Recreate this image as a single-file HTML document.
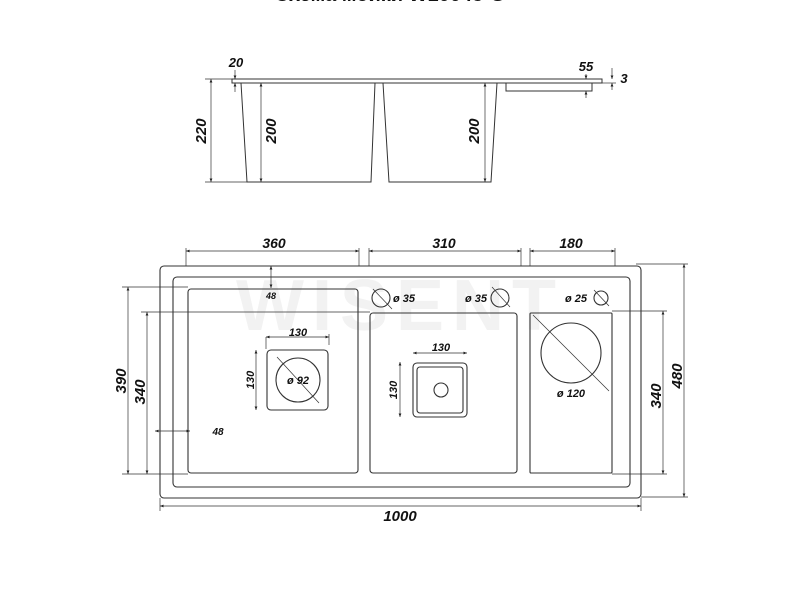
<!DOCTYPE html>
<html><head><meta charset="utf-8"><style>
html,body{margin:0;padding:0;background:#fff;width:800px;height:600px;overflow:hidden}
svg{display:block}
text{font-family:"Liberation Sans",sans-serif;font-weight:bold;font-style:italic;fill:#111}
</style></head><body>
<svg width="800" height="600" viewBox="0 0 800 600" xmlns="http://www.w3.org/2000/svg">
<defs>
<marker id="a" viewBox="0 0 10 10" refX="10" refY="5" markerWidth="5" markerHeight="5" orient="auto-start-reverse"><path d="M0,1 L10,5 L0,9z" fill="#222"/></marker>
</defs>
<text x="390" y="1" font-size="20" text-anchor="middle" style="font-style:normal">Схема мойки W10048-G</text>
<text x="400" y="330" font-size="72" text-anchor="middle" style="fill:#f2f2f2;font-style:normal" letter-spacing="8">WISENT</text>
<g fill="none" stroke="#333" stroke-width="1">
<path d="M232,79 H602 V83 H232 Z"/>
<path d="M241,83 L247,182 H371 L375,83"/>
<path d="M383,83 L389,182 H491 L497,83"/>
<path d="M506,83 V91 H592 V83"/>
</g>
<g stroke="#333" stroke-width="0.7" fill="none">
<line x1="211" y1="79" x2="211" y2="182" marker-start="url(#a)" marker-end="url(#a)"/>
<line x1="205" y1="79" x2="232" y2="79"/><line x1="205" y1="182" x2="247" y2="182"/>
<line x1="261" y1="83" x2="261" y2="182" marker-start="url(#a)" marker-end="url(#a)"/>
<line x1="485" y1="83" x2="485" y2="182" marker-start="url(#a)" marker-end="url(#a)"/>
<line x1="235" y1="70" x2="235" y2="79" marker-end="url(#a)"/>
<line x1="235" y1="92" x2="235" y2="83" marker-end="url(#a)"/>
<line x1="586" y1="74" x2="586" y2="79" marker-end="url(#a)"/>
<line x1="586" y1="98" x2="586" y2="91" marker-end="url(#a)"/>
<line x1="612" y1="68" x2="612" y2="79" marker-end="url(#a)"/>
<line x1="612" y1="90" x2="612" y2="83" marker-end="url(#a)"/>
<line x1="602" y1="83" x2="616" y2="83"/>
</g>
<text x="236" y="67" font-size="13" text-anchor="middle">20</text>
<text x="586" y="71" font-size="13" text-anchor="middle">55</text>
<text x="624" y="83" font-size="13" text-anchor="middle">3</text>
<text transform="translate(206,131) rotate(-90)" font-size="15" text-anchor="middle">220</text>
<text transform="translate(276,131) rotate(-90)" font-size="15" text-anchor="middle">200</text>
<text transform="translate(479,131) rotate(-90)" font-size="15" text-anchor="middle">200</text>

<g fill="none" stroke="#333" stroke-width="1.1">
<rect x="160" y="266" width="481" height="232" rx="4"/>
<rect x="173" y="277" width="457" height="210" rx="4"/>
<rect x="188" y="289" width="170" height="184" rx="3"/>
<rect x="370" y="313" width="147" height="160" rx="3"/>
<rect x="530" y="313" width="82" height="160" rx="1"/>
<circle cx="381" cy="298" r="9"/><circle cx="500" cy="298" r="9"/><circle cx="601" cy="298" r="7"/>
<rect x="267" y="350" width="61" height="60" rx="4"/>
<circle cx="298" cy="380" r="22"/>
<rect x="413" y="363" width="54" height="54" rx="4"/>
<rect x="417" y="367" width="46" height="46" rx="3"/>
<circle cx="441" cy="390" r="7"/>
<circle cx="571" cy="353" r="30"/>
</g>
<g stroke="#333" stroke-width="0.7" fill="none">
<line x1="373" y1="289" x2="392" y2="309"/><line x1="492" y1="287" x2="510" y2="307"/><line x1="594" y1="290" x2="609" y2="306"/>
<line x1="277" y1="357" x2="319" y2="403"/>
<line x1="533" y1="315" x2="609" y2="391"/>
<line x1="186" y1="251" x2="359" y2="251" marker-start="url(#a)" marker-end="url(#a)"/>
<line x1="369" y1="251" x2="521" y2="251" marker-start="url(#a)" marker-end="url(#a)"/>
<line x1="530" y1="251" x2="615" y2="251" marker-start="url(#a)" marker-end="url(#a)"/>
<line x1="186" y1="248" x2="186" y2="266"/><line x1="359" y1="248" x2="359" y2="266"/>
<line x1="369" y1="248" x2="369" y2="266"/><line x1="521" y1="248" x2="521" y2="266"/>
<line x1="530" y1="248" x2="530" y2="266"/><line x1="615" y1="248" x2="615" y2="266"/>
<line x1="271" y1="266" x2="271" y2="288" marker-start="url(#a)" marker-end="url(#a)"/>
<line x1="128" y1="287" x2="128" y2="474" marker-start="url(#a)" marker-end="url(#a)"/>
<line x1="122" y1="287" x2="188" y2="287"/><line x1="122" y1="474" x2="188" y2="474"/>
<line x1="147" y1="312" x2="147" y2="474" marker-start="url(#a)" marker-end="url(#a)"/>
<line x1="141" y1="312" x2="370" y2="312"/>
<line x1="155" y1="431" x2="190" y2="431" marker-start="url(#a)" marker-end="url(#a)"/>
<line x1="663" y1="311" x2="663" y2="474" marker-start="url(#a)" marker-end="url(#a)"/>
<line x1="612" y1="311" x2="667" y2="311"/><line x1="612" y1="474" x2="667" y2="474"/>
<line x1="684" y1="264" x2="684" y2="497" marker-start="url(#a)" marker-end="url(#a)"/>
<line x1="636" y1="264" x2="688" y2="264"/><line x1="641" y1="497" x2="688" y2="497"/>
<line x1="160" y1="506" x2="641" y2="506" marker-start="url(#a)" marker-end="url(#a)"/>
<line x1="160" y1="498" x2="160" y2="511"/><line x1="641" y1="498" x2="641" y2="511"/>
<line x1="266" y1="337" x2="329" y2="337" marker-start="url(#a)" marker-end="url(#a)"/>
<line x1="266" y1="337" x2="266" y2="349"/><line x1="329" y1="334" x2="329" y2="345"/>
<line x1="256" y1="350" x2="256" y2="410" marker-start="url(#a)" marker-end="url(#a)"/>
<line x1="413" y1="353" x2="467" y2="353" marker-start="url(#a)" marker-end="url(#a)"/>
<line x1="400" y1="362" x2="400" y2="417" marker-start="url(#a)" marker-end="url(#a)"/>
</g>
<text x="274" y="248" font-size="14" text-anchor="middle">360</text>
<text x="444" y="248" font-size="14" text-anchor="middle">310</text>
<text x="571" y="248" font-size="14" text-anchor="middle">180</text>
<text x="271" y="299" font-size="9" text-anchor="middle">48</text>
<text x="218" y="435" font-size="10" text-anchor="middle">48</text>
<text x="393" y="302" font-size="11">ø 35</text>
<text x="465" y="302" font-size="11">ø 35</text>
<text x="565" y="302" font-size="11">ø 25</text>
<text x="298" y="336" font-size="11" text-anchor="middle">130</text>
<text x="441" y="351" font-size="11" text-anchor="middle">130</text>
<text x="298" y="384" font-size="11" text-anchor="middle">ø 92</text>
<text x="571" y="397" font-size="11" text-anchor="middle">ø 120</text>
<text transform="translate(254,380) rotate(-90)" font-size="11" text-anchor="middle">130</text>
<text transform="translate(397,390) rotate(-90)" font-size="11" text-anchor="middle">130</text>
<text transform="translate(126,381) rotate(-90)" font-size="15" text-anchor="middle">390</text>
<text transform="translate(145,392) rotate(-90)" font-size="15" text-anchor="middle">340</text>
<text transform="translate(661,396) rotate(-90)" font-size="15" text-anchor="middle">340</text>
<text transform="translate(682,376) rotate(-90)" font-size="15" text-anchor="middle">480</text>
<text x="400" y="521" font-size="15" text-anchor="middle">1000</text>
</svg>
</body></html>
